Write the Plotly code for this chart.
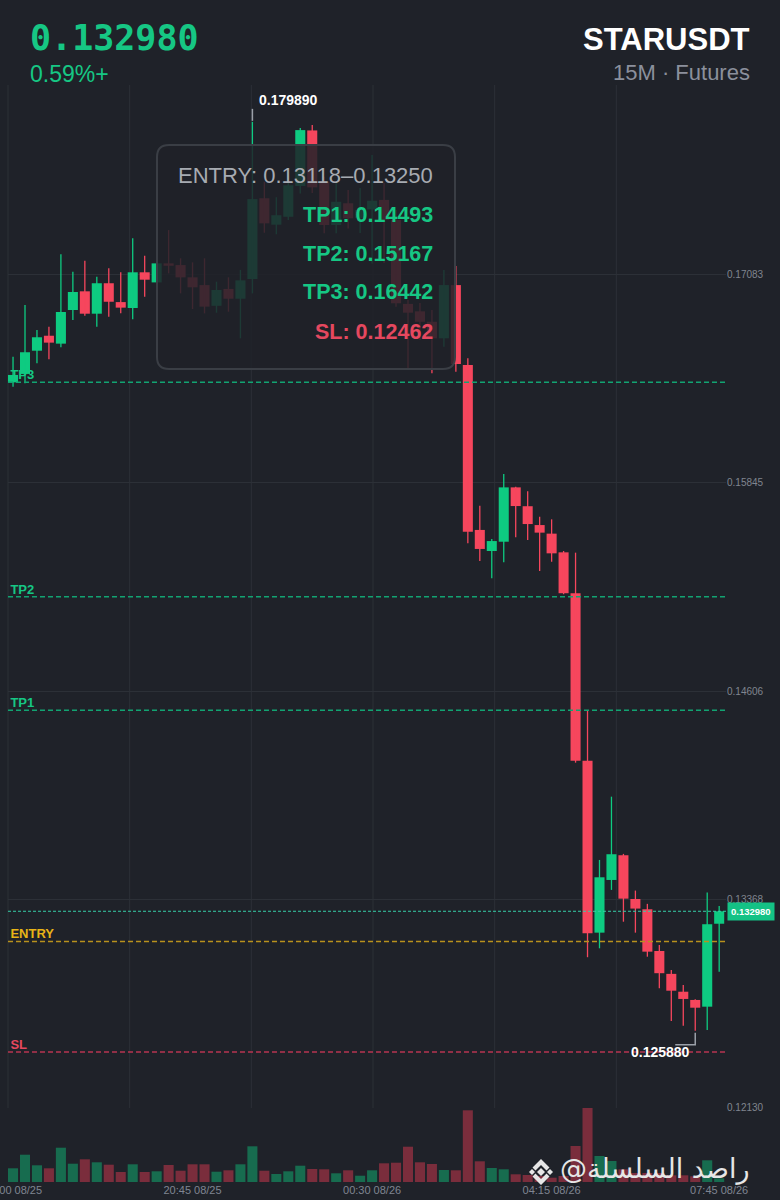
import plotly.graph_objects as go

# ---- 15M candles, STARUSDT futures (17:00 08/25 -> 07:45 08/26) ----
open_ = [0.16441, 0.16491, 0.16629, 0.16718, 0.16671, 0.16871, 0.16982, 0.16849, 0.17030, 0.16918,
         0.16883, 0.17095, 0.17035, 0.17148, 0.17138, 0.17065, 0.17019, 0.16896, 0.16996, 0.16938,
         0.17055, 0.17535, 0.17378, 0.17425, 0.17608, 0.17938, 0.17633, 0.17376, 0.17505, 0.17418,
         0.17469, 0.17525, 0.17406, 0.16907, 0.16863, 0.16801, 0.16703, 0.17019, 0.16544, 0.15564,
         0.15439, 0.15494, 0.15817, 0.15705, 0.15593, 0.15542, 0.15431, 0.15188, 0.14193, 0.13171,
         0.13484, 0.13631, 0.13371, 0.13310, 0.13062, 0.12926, 0.12820, 0.12771, 0.12731, 0.13224]
high = [0.16593, 0.16901, 0.16752, 0.16772, 0.17202, 0.17098, 0.17164, 0.17069, 0.17119, 0.17095,
        0.17297, 0.17194, 0.17180, 0.17346, 0.17178, 0.17154, 0.17178, 0.17039, 0.17065, 0.17109,
        0.17989, 0.17633, 0.17541, 0.17643, 0.17952, 0.17970, 0.17663, 0.17624, 0.17584, 0.17596,
        0.17792, 0.17626, 0.17465, 0.16930, 0.16912, 0.16871, 0.17109, 0.17132, 0.16584, 0.15708,
        0.15510, 0.15896, 0.15820, 0.15794, 0.15643, 0.15627, 0.15439, 0.15429, 0.14490, 0.13603,
        0.13979, 0.13639, 0.13421, 0.13342, 0.13098, 0.12949, 0.12860, 0.12775, 0.13409, 0.13330]
low = [0.16415, 0.16435, 0.16554, 0.16578, 0.16649, 0.16812, 0.16837, 0.16772, 0.16831, 0.16851,
       0.16816, 0.16950, 0.17013, 0.17089, 0.16970, 0.16877, 0.16851, 0.16855, 0.16861, 0.16703,
       0.16970, 0.17330, 0.17321, 0.17406, 0.17564, 0.17566, 0.17327, 0.17327, 0.17356, 0.17328,
       0.17148, 0.17150, 0.16891, 0.16525, 0.16693, 0.16495, 0.16653, 0.16504, 0.15485, 0.15380,
       0.15277, 0.15372, 0.15520, 0.15504, 0.15320, 0.15375, 0.15182, 0.14181, 0.13025, 0.13078,
       0.13425, 0.13236, 0.13171, 0.13028, 0.12841, 0.12646, 0.12618, 0.12588, 0.12593, 0.12939]
close = [0.16485, 0.16620, 0.16709, 0.16677, 0.16859, 0.16978, 0.16849, 0.17030, 0.16920, 0.16885,
         0.17095, 0.17051, 0.17148, 0.17134, 0.17065, 0.17006, 0.16891, 0.16990, 0.16938, 0.17047,
         0.17530, 0.17386, 0.17434, 0.17612, 0.17940, 0.17600, 0.17376, 0.17514, 0.17416, 0.17465,
         0.17520, 0.17406, 0.16911, 0.16855, 0.16801, 0.16703, 0.17019, 0.16550, 0.15554, 0.15451,
         0.15498, 0.15817, 0.15706, 0.15599, 0.15548, 0.15425, 0.15188, 0.14193, 0.13167, 0.13500,
         0.13637, 0.13373, 0.13314, 0.13058, 0.12930, 0.12826, 0.12777, 0.12725, 0.13221, 0.13298]
# volume in thousands
volume = [137, 273, 167, 137, 343, 183, 227, 197, 173, 100,
          177, 100, 107, 170, 113, 177, 177, 103, 117, 177,
          357, 113, 80, 107, 163, 130, 127, 87, 117, 63,
          117, 187, 193, 353, 197, 180, 120, 117, 717, 207,
          140, 127, 77, 70, 60, 43, 60, 360, 740, 260,
          210, 127, 90, 90, 90, 67, 67, 57, 217, 37]

time_tick_idx = [0, 15, 30, 45, 59]
time_tick_text = ["17:00 08/25", "20:45 08/25", "00:30 08/26", "04:15 08/26", "07:45 08/26"]

price_ticks = [0.12130, 0.13368, 0.14606, 0.15845, 0.17083]

symbol = "STARUSDT"
timeframe = "15M · Futures"
change_text = "0.59%+"

ENTRY_LOW, ENTRY_HIGH = 0.13118, 0.13250
TP1, TP2, TP3 = 0.14493, 0.15167, 0.16442
SL = 0.12462

# ---- styling ----
W, H = 780, 1200
BG = "#1f2229"
UP, DOWN = "#0ecb81", "#f6465d"
UP_VOL, DOWN_VOL = "#176c4f", "#7a2d3c"
GRID = "#2c3037"
GREEN_TXT, GOLD_TXT, RED_TXT = "#16c784", "#e8b417", "#e5485f"
AXIS_TXT = "#7f8591"
SANS = "Liberation Sans, Arial, sans-serif"
MONO = "DejaVu Sans Mono, monospace"

PLOT_L, PLOT_R = 8, 726
PRICE_TOP, PRICE_BOT = 85, 1108
VOL_BOT = 1182


def px(x):
    return x / W


def py(y):
    return 1 - y / H


n = len(close)
idx = list(range(n))
x_range = [-0.42, n - 1 + 0.57]
y_range = [0.12129, 0.18208]
up = [c >= o for o, c in zip(open_, close)]

fig = go.Figure()

# level labels (drawn beneath the candles), nudged in from the left edge
levels = [("TP3", TP3, GREEN_TXT, "#12a372"), ("TP2", TP2, GREEN_TXT, "#12a372"),
          ("TP1", TP1, GREEN_TXT, "#12a372"), ("ENTRY", ENTRY_LOW, GOLD_TXT, "#b8911d"),
          ("SL", SL, RED_TXT, "#b73550")]
label_x = x_range[0] + 0.2
fig.add_trace(go.Scatter(
    x=[label_x] * len(levels), y=[v for _, v, _, _ in levels],
    mode="text", text=[name for name, _, _, _ in levels], textposition="top right",
    textfont=dict(color=[c for _, _, c, _ in levels], size=13, family=SANS, weight="bold"),
    hoverinfo="skip", showlegend=False))

# wicks
for flag, col in ((True, UP), (False, DOWN)):
    xs, ys = [], []
    for i in idx:
        if up[i] == flag:
            xs += [i, i, None]
            ys += [low[i], high[i], None]
    fig.add_trace(go.Scatter(x=xs, y=ys, mode="lines", line=dict(color=col, width=1.3),
                             hoverinfo="skip", showlegend=False))

# bodies
min_body = 0.00007
for flag, col in ((True, UP), (False, DOWN)):
    sel = [i for i in idx if up[i] == flag]
    fig.add_trace(go.Bar(
        x=sel, base=[min(open_[i], close[i]) for i in sel],
        y=[max(abs(close[i] - open_[i]), min_body) for i in sel],
        width=0.84, marker=dict(color=col, line=dict(width=0)),
        hoverinfo="skip", showlegend=False))

# volume
fig.add_trace(go.Bar(
    x=idx, y=volume, xaxis="x2", yaxis="y2", width=0.84,
    marker=dict(color=[UP_VOL if u else DOWN_VOL for u in up], line=dict(width=0)),
    hoverinfo="skip", showlegend=False))

shapes = []
# vertical grid
step = 730 / 6
for k in range(6):
    xg = px(PLOT_L + k * step)
    shapes.append(dict(type="line", xref="paper", yref="y domain", x0=xg, x1=xg, y0=0, y1=1,
                       line=dict(color=GRID, width=1), layer="below"))

# level lines
for name, val, _, lc in levels:
    shapes.append(dict(type="line", xref="x domain", x0=0, x1=1, yref="y", y0=val, y1=val,
                       line=dict(color=lc, width=1.4, dash="5px,3px"), layer="above"))
# last price line
last = close[-1]
shapes.append(dict(type="line", xref="x domain", x0=0, x1=1, yref="y", y0=last, y1=last,
                   line=dict(color="#36cfa8", width=1, dash="3px,2px"), layer="above"))

# signal box with rounded corners
bx0, bx1, by0, by1, r = 157, 455, 145, 369, 12
box_path = (f"M {px(bx0 + r)},{py(by0)} L {px(bx1 - r)},{py(by0)} "
            f"Q {px(bx1)},{py(by0)} {px(bx1)},{py(by0 + r)} L {px(bx1)},{py(by1 - r)} "
            f"Q {px(bx1)},{py(by1)} {px(bx1 - r)},{py(by1)} L {px(bx0 + r)},{py(by1)} "
            f"Q {px(bx0)},{py(by1)} {px(bx0)},{py(by1 - r)} L {px(bx0)},{py(by0 + r)} "
            f"Q {px(bx0)},{py(by0)} {px(bx0 + r)},{py(by0)} Z")
shapes.append(dict(type="path", xref="paper", yref="paper", path=box_path,
                   fillcolor="rgba(31,34,41,0.86)", line=dict(color="#3a3e45", width=2),
                   layer="above"))

# high / low leaders
i_max = max(idx, key=lambda i: high[i])
i_min = min(idx, key=lambda i: low[i])
shapes.append(dict(type="line", xref="x", yref="y", xsizemode="scaled", ysizemode="pixel",
                   x0=i_max, x1=i_max, yanchor=high[i_max], y0=1, y1=13,
                   line=dict(color="#9aa0a8", width=1.5), layer="above"))
shapes.append(dict(type="path", xref="x", yref="y", xsizemode="pixel", ysizemode="pixel",
                   xanchor=i_min, yanchor=low[i_min], path="M 0,-2 L 0,-14 L -20,-14",
                   line=dict(color="#9aa0a8", width=1.5), layer="above"))

# exchange logo in the watermark
lx, ly = 541, 1172


def poly(points):
    pts = [f"{px(lx + a)},{py(ly + b)}" for a, b in points]
    return "M " + " L ".join(pts) + " Z"


logo_parts = [
    [(0, -4), (4, 0), (0, 4), (-4, 0)],
    [(-9, -3), (-6, 0), (-9, 3), (-12, 0)],
    [(9, -3), (12, 0), (9, 3), (6, 0)],
    [(0, -13), (8.5, -4.5), (5.5, -1.5), (0, -7), (-5.5, -1.5), (-8.5, -4.5)],
    [(0, 13), (8.5, 4.5), (5.5, 1.5), (0, 7), (-5.5, 1.5), (-8.5, 4.5)],
]
for part in logo_parts:
    shapes.append(dict(type="path", xref="paper", yref="paper", path=poly(part),
                       fillcolor="#e6e6e6", line=dict(width=0), layer="above"))

annotations = [
    # header
    dict(x=px(28), y=py(38), xref="paper", yref="paper", xanchor="left", yanchor="middle",
         text=f"<b>{last:.6f}</b>", font=dict(family=MONO, size=35, color=GREEN_TXT), showarrow=False),
    dict(x=px(28), y=py(74), xref="paper", yref="paper", xanchor="left", yanchor="middle",
         text=change_text, font=dict(family=SANS, size=23, color=GREEN_TXT), showarrow=False),
    dict(x=px(752), y=py(40), xref="paper", yref="paper", xanchor="right", yanchor="middle",
         text=f"<b>{symbol}</b>", font=dict(family=SANS, size=31, color="#ffffff"), showarrow=False),
    dict(x=px(752), y=py(73), xref="paper", yref="paper", xanchor="right", yanchor="middle",
         text=timeframe, font=dict(family=SANS, size=22, color="#8b909c"), showarrow=False),
    # signal box text
    dict(x=px(435), y=py(175), xref="paper", yref="paper", xanchor="right", yanchor="middle",
         text=f"ENTRY: {ENTRY_LOW:.5f}–{ENTRY_HIGH:.5f}",
         font=dict(family=SANS, size=22, color="#a7abb2"), showarrow=False),
    dict(x=px(435), y=py(215), xref="paper", yref="paper", xanchor="right", yanchor="middle",
         text=f"<b>TP1: {TP1:.5f}</b>", font=dict(family=SANS, size=21.5, color=GREEN_TXT), showarrow=False),
    dict(x=px(435), y=py(254), xref="paper", yref="paper", xanchor="right", yanchor="middle",
         text=f"<b>TP2: {TP2:.5f}</b>", font=dict(family=SANS, size=21.5, color=GREEN_TXT), showarrow=False),
    dict(x=px(435), y=py(292), xref="paper", yref="paper", xanchor="right", yanchor="middle",
         text=f"<b>TP3: {TP3:.5f}</b>", font=dict(family=SANS, size=21.5, color=GREEN_TXT), showarrow=False),
    dict(x=px(435), y=py(332), xref="paper", yref="paper", xanchor="right", yanchor="middle",
         text=f"<b>SL: {SL:.5f}</b>", font=dict(family=SANS, size=21.5, color=RED_TXT), showarrow=False),
    # extremes
    dict(x=i_max, y=high[i_max], xref="x", yref="y", xshift=36, yshift=22,
         text=f"<b>{high[i_max]:.6f}</b>", font=dict(family=SANS, size=14, color="#ffffff"), showarrow=False),
    dict(x=i_min, y=low[i_min], xref="x", yref="y", xshift=-35, yshift=-21,
         text=f"<b>{low[i_min]:.6f}</b>", font=dict(family=SANS, size=14, color="#ffffff"), showarrow=False),
    # last price tag
    dict(x=px(727), y=last, xref="paper", yref="y", xanchor="left", yanchor="middle",
         text=f"<b>{last:.6f}</b>", font=dict(family=SANS, size=9.5, color="#ffffff"),
         bgcolor="#14c285", borderpad=3, showarrow=False),
    # watermark
    dict(x=px(558), y=py(1169), xref="paper", yref="paper", xanchor="left", yanchor="middle",
         text="@راصد السلسلة", font=dict(family="DejaVu Sans, sans-serif", size=27, color="#e6e6e6"),
         showarrow=False),
]

fig.update_layout(
    width=W, height=H, autosize=False, margin=dict(l=0, r=0, t=0, b=0, autoexpand=False),
    paper_bgcolor=BG, plot_bgcolor=BG, barmode="overlay", showlegend=False,
    xaxis=dict(domain=[px(PLOT_L), px(PLOT_R)], range=x_range, showgrid=False, zeroline=False,
               showticklabels=False, showline=False, anchor="y", automargin=False),
    yaxis=dict(domain=[py(PRICE_BOT), py(PRICE_TOP)], range=y_range, side="right",
               tickvals=price_ticks, ticktext=[f"{v:.5f}" for v in price_ticks],
               tickfont=dict(family=SANS, size=10, color="#80858f"), gridcolor=GRID, gridwidth=1,
               zeroline=False, showline=False, ticks="", anchor="x", automargin=False),
    xaxis2=dict(domain=[px(PLOT_L), px(PLOT_R)], matches="x", anchor="y2", showgrid=False,
                zeroline=False, tickvals=time_tick_idx, ticktext=time_tick_text, ticks="",
                ticklabeloverflow="allow", automargin=False,
                tickfont=dict(family=SANS, size=11, color=AXIS_TXT)),
    yaxis2=dict(domain=[py(VOL_BOT), py(PRICE_BOT)], range=[0, max(volume)], showgrid=False,
                zeroline=False, showticklabels=False, anchor="x2", automargin=False),
    shapes=shapes, annotations=annotations,
)

fig.write_html("out.html", config={"staticPlot": True, "responsive": False})
